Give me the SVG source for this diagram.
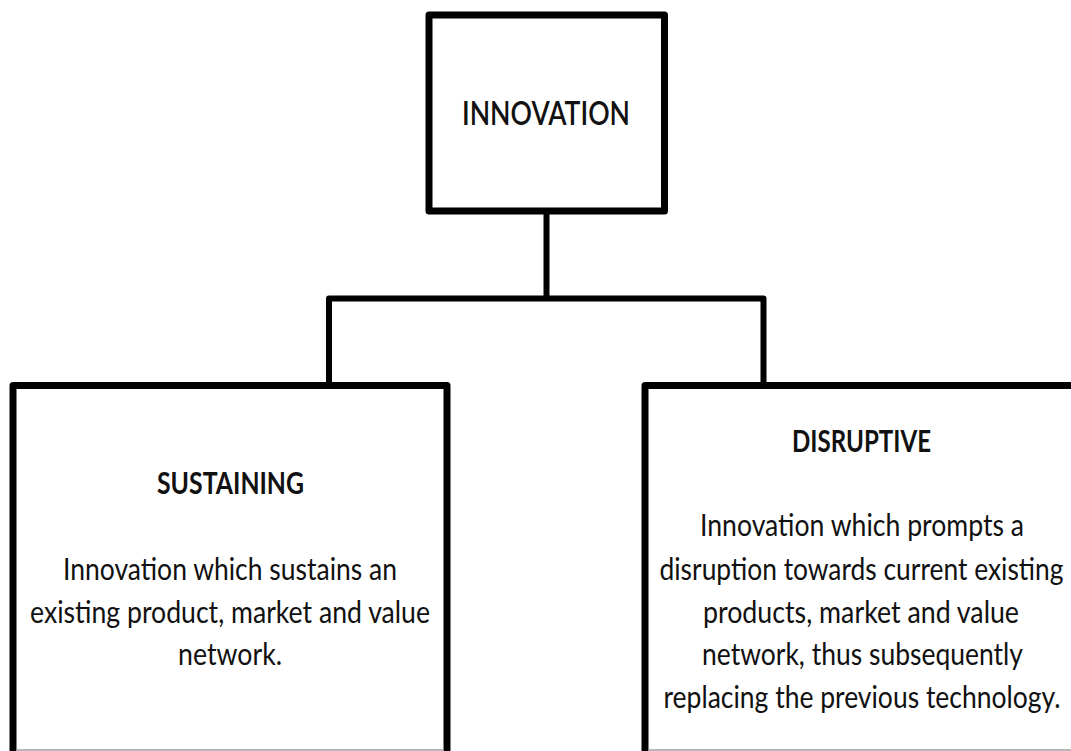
<svg xmlns="http://www.w3.org/2000/svg" width="1071" height="751" viewBox="0 0 1071 751">
<style>
.box{fill:#fff;stroke:#000;stroke-width:7;stroke-linejoin:round}
.open{fill:none;stroke:#000;stroke-width:7;stroke-linejoin:round}
.conn{fill:none;stroke:#000;stroke-width:6;stroke-linejoin:round;stroke-linecap:butt}
.t{font-family:Lato,"Open Sans","Liberation Sans",sans-serif;fill:#111;text-anchor:middle}
.title{font-size:31px;font-weight:700}
.top{font-size:32px;font-weight:600}
.body{font-size:30px;font-weight:400}
.edge{stroke:#a0a0a0;stroke-width:1.5}
</style>
<rect width="1071" height="751" fill="#fff"/>
<g id="connectors">
<path class="conn" d="M546.5 211 V298.5"/>
<path class="conn" d="M329 385 V298.5 H763.5 V385"/>
</g>
<g id="innovation">
<rect class="box" x="429" y="15" width="235.5" height="196"/>
<text class="t top" x="546" y="125" textLength="168" lengthAdjust="spacingAndGlyphs">INNOVATION</text>
</g>
<g id="sustaining">
<path class="open" d="M13 760 V385.5 H447 V760"/>
<line class="edge" x1="16" y1="750" x2="444" y2="750"/>
<text class="t title" x="230.5" y="494" textLength="147" lengthAdjust="spacingAndGlyphs">SUSTAINING</text>
<text class="t body" x="230" y="580" textLength="334" lengthAdjust="spacingAndGlyphs">Innovation which sustains an</text>
<text class="t body" x="230" y="623" textLength="400" lengthAdjust="spacingAndGlyphs">existing product, market and value</text>
<text class="t body" x="230" y="665" textLength="104" lengthAdjust="spacingAndGlyphs">network.</text>
</g>
<g id="disruptive">
<path class="open" d="M645 760 V385.5 H1080"/>
<line class="edge" x1="648" y1="750" x2="1071" y2="750"/>
<text class="t title" x="861.5" y="452" textLength="139" lengthAdjust="spacingAndGlyphs">DISRUPTIVE</text>
<text class="t body" x="862" y="536" textLength="324" lengthAdjust="spacingAndGlyphs">Innovation which prompts a</text>
<text class="t body" x="861.5" y="580" textLength="404" lengthAdjust="spacingAndGlyphs">disruption towards current existing</text>
<text class="t body" x="861" y="623" textLength="316" lengthAdjust="spacingAndGlyphs">products, market and value</text>
<text class="t body" x="862.5" y="665" textLength="321" lengthAdjust="spacingAndGlyphs">network, thus subsequently</text>
<text class="t body" x="862" y="708" textLength="397" lengthAdjust="spacingAndGlyphs">replacing the previous technology.</text>
</g>
</svg>
